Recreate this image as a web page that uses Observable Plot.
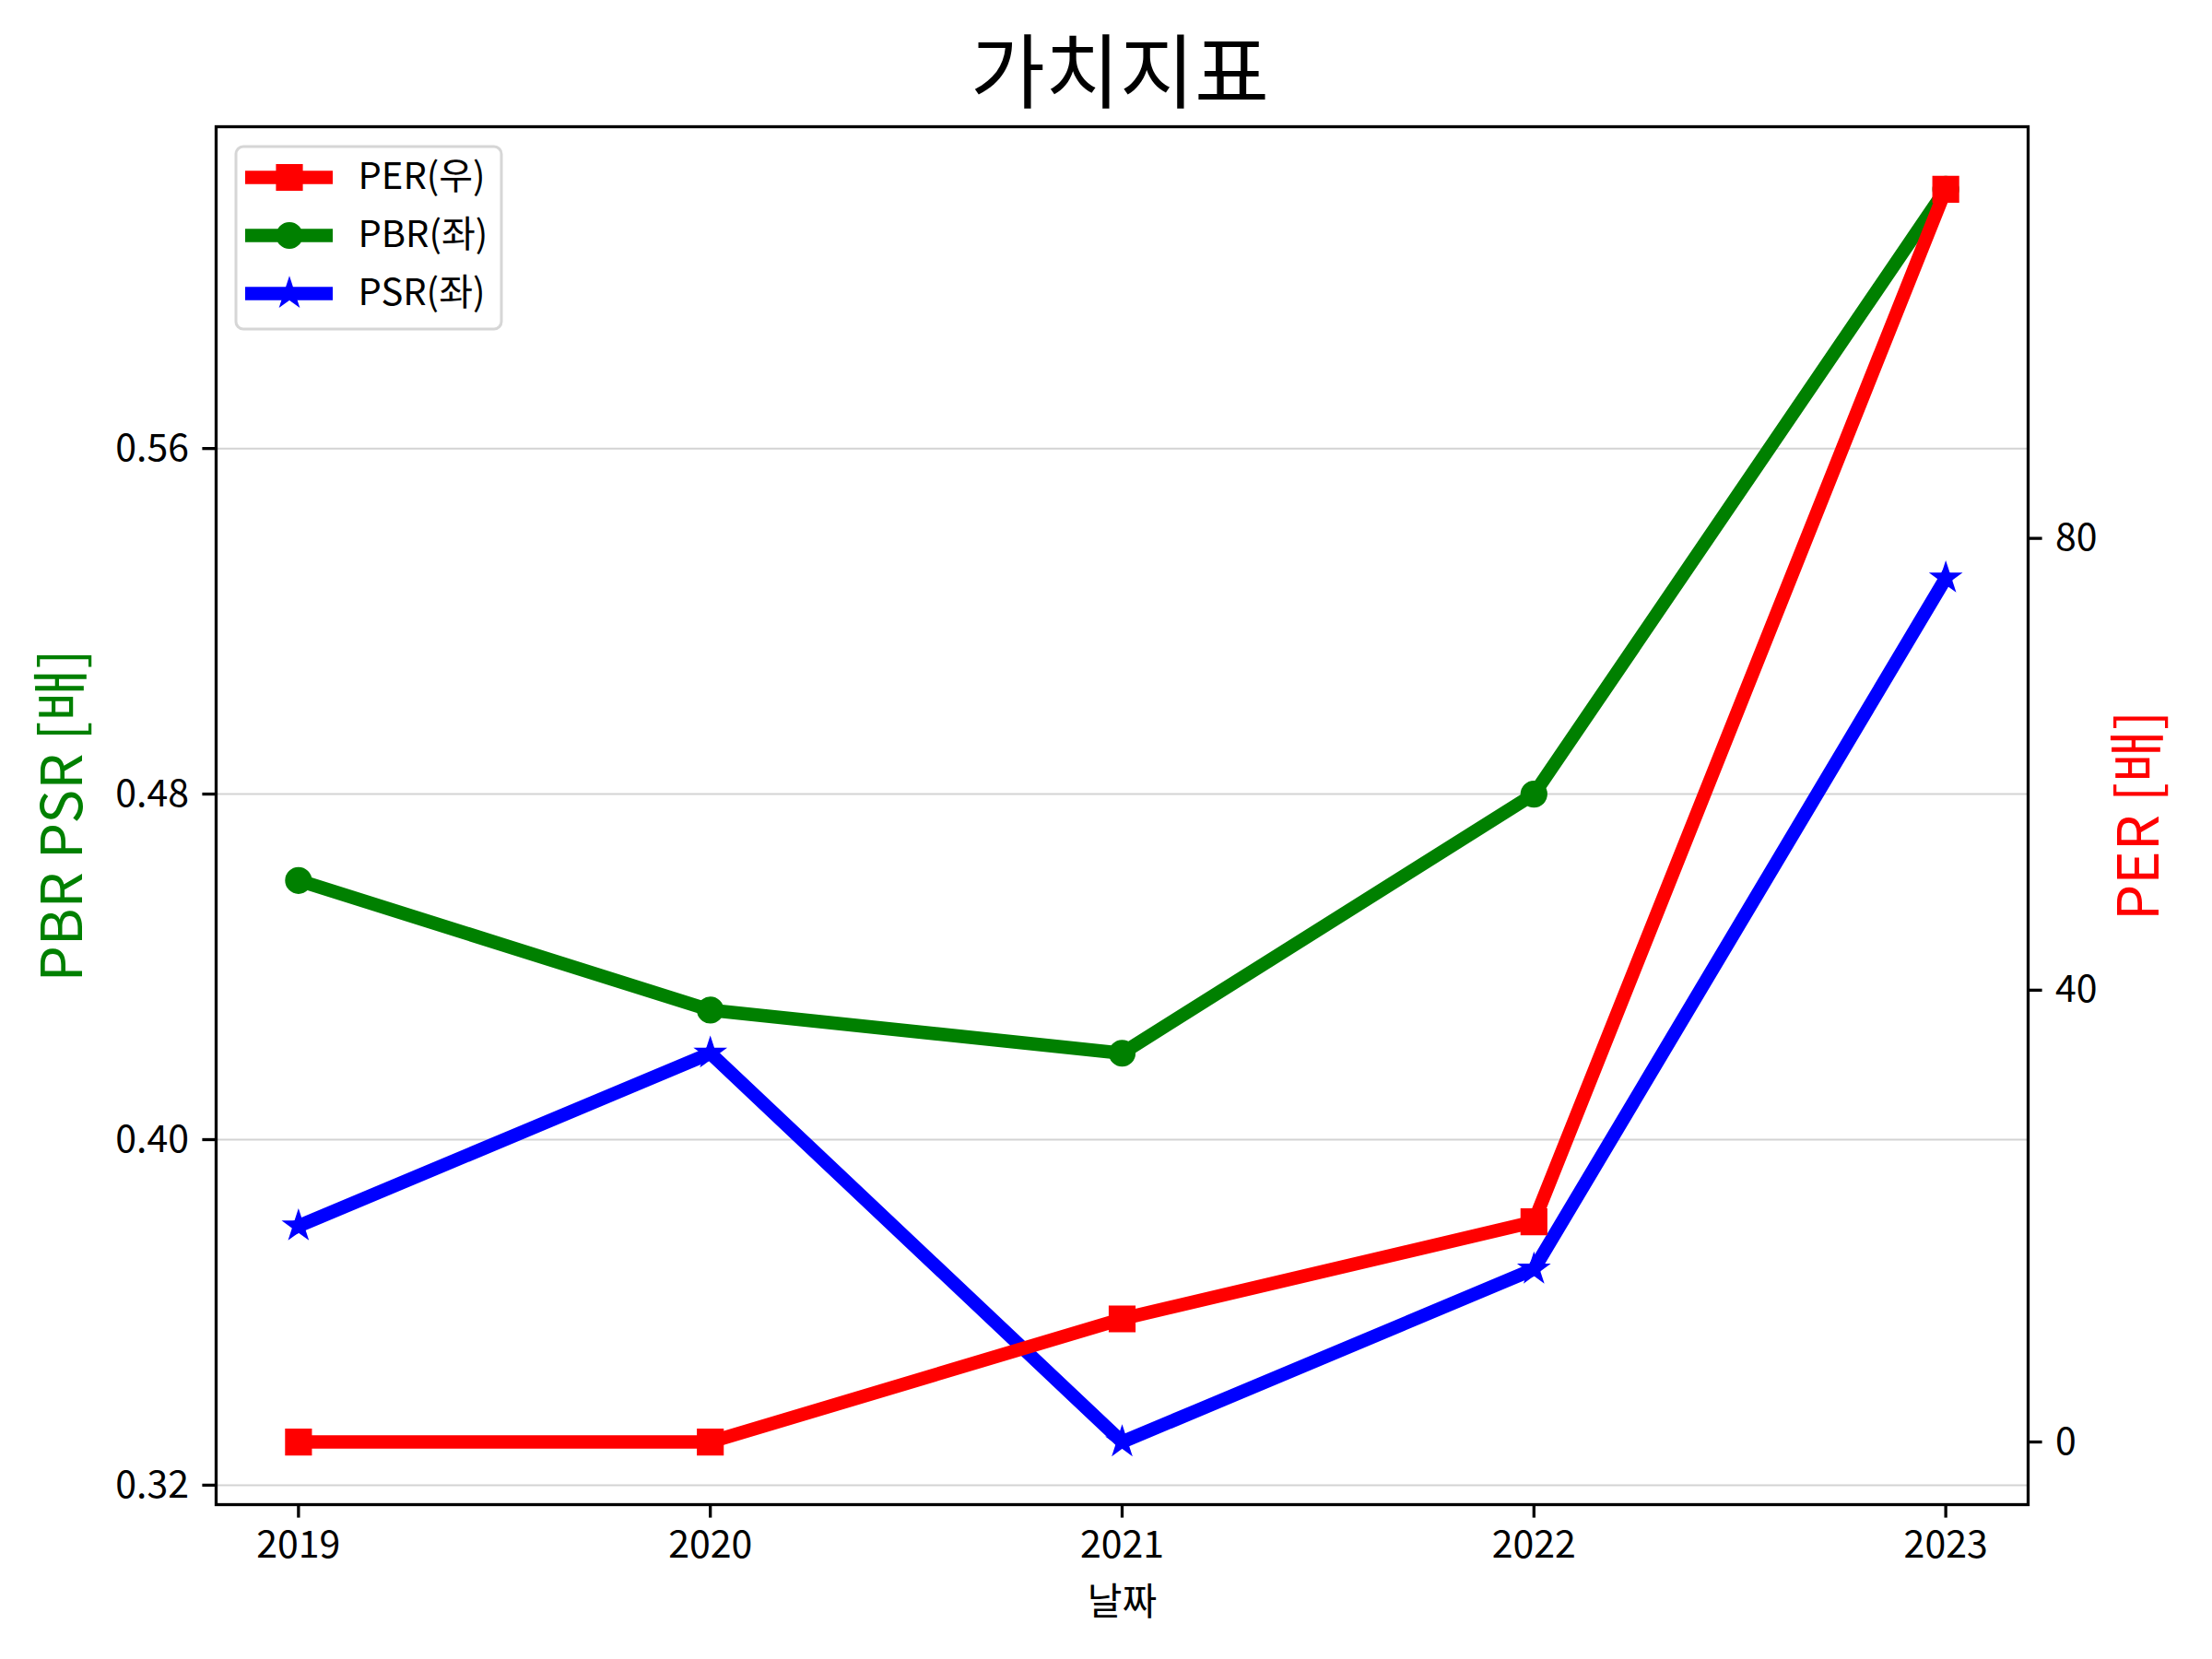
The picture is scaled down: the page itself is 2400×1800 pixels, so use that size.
<!DOCTYPE html>
<html>
<head>
<meta charset="utf-8">
<script src="https://cdn.jsdelivr.net/npm/d3@7"></script>
<script src="https://cdn.jsdelivr.net/npm/@observablehq/plot@0.6"></script>
<style>
  html, body { margin: 0; padding: 0; background: white; }
  #wrap { position: relative; width: 2400px; font-family: 'Noto Sans CJK KR', 'Noto Sans', sans-serif; }
  #title { height: 116px; padding-top: 14px; line-height: 116px; font-size: 88px; text-align: center; color: black; padding-left: 30px; box-sizing: content-box; }
</style>
</head>
<body>
<div id="wrap">
  <div id="title">가치지표</div>
</div>
<script>
// ---- data ----
const years = [2019, 2020, 2021, 2022, 2023];
const per = [0, 0, 10.9, 19.5, 110.9];     // right axis
const pbr = [0.46, 0.43, 0.42, 0.48, 0.62]; // left axis
const psr = [0.38, 0.42, 0.33, 0.37, 0.53]; // left axis
const leftTicks = [0.32, 0.40, 0.48, 0.56];
const rightTicks = [0, 40, 80];
const legendLabels = ["PER(우)", "PBR(좌)", "PSR(좌)"];
const legendColors = ["red", "green", "blue"];
const legendSymbols = ["square", "circle", "star"];

// ---- scales (matplotlib-like 5% margins, twin axis alignment) ----
const leftVals = pbr.concat(psr);
const lmin = d3.min(leftVals), lmax = d3.max(leftVals), lr = lmax - lmin;
const yDomain = [lmin - 0.05 * lr, lmax + 0.05 * lr];
const pmin = d3.min(per), pmax = d3.max(per);
const perToLeft = d3.scaleLinear([pmin, pmax], [lmin, lmax]);
const xr = d3.max(years) - d3.min(years);
const xDomain = [d3.min(years) - 0.05 * xr, d3.max(years) + 0.05 * xr];

const pbrRows = years.map((year, i) => ({year, v: pbr[i]}));
const psrRows = years.map((year, i) => ({year, v: psr[i]}));
const perRows = years.map((year, i) => ({year, v: perToLeft(per[i])}));

const LW = 14.6, EW = 4.17, TW = 3.3, FS = 41;
const lineOpts = {x: "year", y: "v", strokeWidth: LW, strokeLinejoin: "round", strokeLinecap: "square"};
const symR = {square: 14.1, circle: 12.5, star: 7.5};
const FONT = "'Noto Sans CJK KR', 'Noto Sans', sans-serif";

const chart = Plot.plot({
  width: 2400,
  height: 1670,
  marginTop: 7,
  marginBottom: 168,
  marginLeft: 234,
  marginRight: 200,
  style: {fontFamily: FONT, color: "black", background: "white", overflow: "visible"},
  x: {type: "linear", domain: xDomain},
  y: {type: "linear", domain: yDomain},
  marks: [
    Plot.gridY(leftTicks, {stroke: "#d3d3d3", strokeOpacity: 1, strokeWidth: 2}),
    Plot.line(pbrRows, {...lineOpts, stroke: "green"}),
    Plot.dot(pbrRows, {x: "year", y: "v", symbol: "circle", r: symR.circle, fill: "green", stroke: "green", strokeWidth: EW}),
    Plot.line(psrRows, {...lineOpts, stroke: "blue"}),
    Plot.dot(psrRows, {x: "year", y: "v", symbol: "star", r: symR.star, fill: "blue", stroke: "blue", strokeWidth: EW, strokeLinejoin: "miter"}),
    Plot.line(perRows, {...lineOpts, stroke: "red"}),
    Plot.dot(perRows, {x: "year", y: "v", symbol: "square", r: symR.square, fill: "red", stroke: "red", strokeWidth: EW, strokeLinejoin: "miter"}),
    Plot.frame({stroke: "black", strokeWidth: TW}),
    Plot.axisX({ticks: years, tickFormat: d => String(d), tickSize: 14.6, tickPadding: 14, strokeWidth: TW, fontSize: FS, label: null}),
    Plot.axisY({anchor: "left", ticks: leftTicks, tickFormat: d3.format(".2f"), tickSize: 14.6, tickPadding: 15, strokeWidth: TW, fontSize: FS, label: null}),
    Plot.axisY({anchor: "right", ticks: rightTicks.map(perToLeft), tickFormat: d => String(Math.round(perToLeft.invert(d))), tickSize: 14.6, tickPadding: 15, strokeWidth: TW, fontSize: FS, label: null}),
    Plot.text(["PBR PSR [배]"], {text: d => d, frameAnchor: "left", dx: -165, rotate: -90, textAnchor: "middle", lineAnchor: "middle", fill: "green", fontSize: 62}),
    Plot.text(["PER [배]"], {text: d => d, frameAnchor: "right", dx: 122, rotate: -90, textAnchor: "middle", lineAnchor: "middle", fill: "red", fontSize: 62}),
    Plot.text(["날짜"], {text: d => d, frameAnchor: "bottom", dy: 106, textAnchor: "middle", lineAnchor: "middle", fill: "black", fontSize: FS})
  ]
});
document.getElementById("wrap").appendChild(chart);

// ---- legend (a small Plot overlaid in the upper-left of the axes) ----
const items = legendLabels.map((label, i) => ({label, color: legendColors[i], symbol: legendSymbols[i], row: i}));
const rowY = d => 35 + d.row * 63;
const legend = Plot.plot({
  width: 291,
  height: 201,
  margin: 0,
  style: {fontFamily: FONT, color: "black", background: "transparent", overflow: "visible", position: "absolute", left: "254px", top: "157px"},
  x: {type: "linear", domain: [0, 291], range: [0, 291], axis: null},
  y: {type: "linear", domain: [0, 201], range: [0, 201], axis: null},
  marks: [
    Plot.frame({rx: 8, ry: 8, fill: "white", fillOpacity: 0.8, stroke: "#d6d6d6", strokeWidth: 3, inset: 1.5}),
    ...items.flatMap(d => [
      Plot.ruleY([d], {y: rowY, x1: 12, x2: 107, stroke: d.color, strokeWidth: LW}),
      Plot.dot([d], {x: 59.5, y: rowY, symbol: d.symbol, r: symR[d.symbol], fill: d.color, stroke: d.color, strokeWidth: EW, strokeLinejoin: "miter"})
    ]),
    Plot.text(items, {x: 134, y: rowY, text: "label", textAnchor: "start", lineAnchor: "middle", fontSize: 40, fill: "black"})
  ]
});
document.getElementById("wrap").appendChild(legend);
</script>
</body>
</html>
